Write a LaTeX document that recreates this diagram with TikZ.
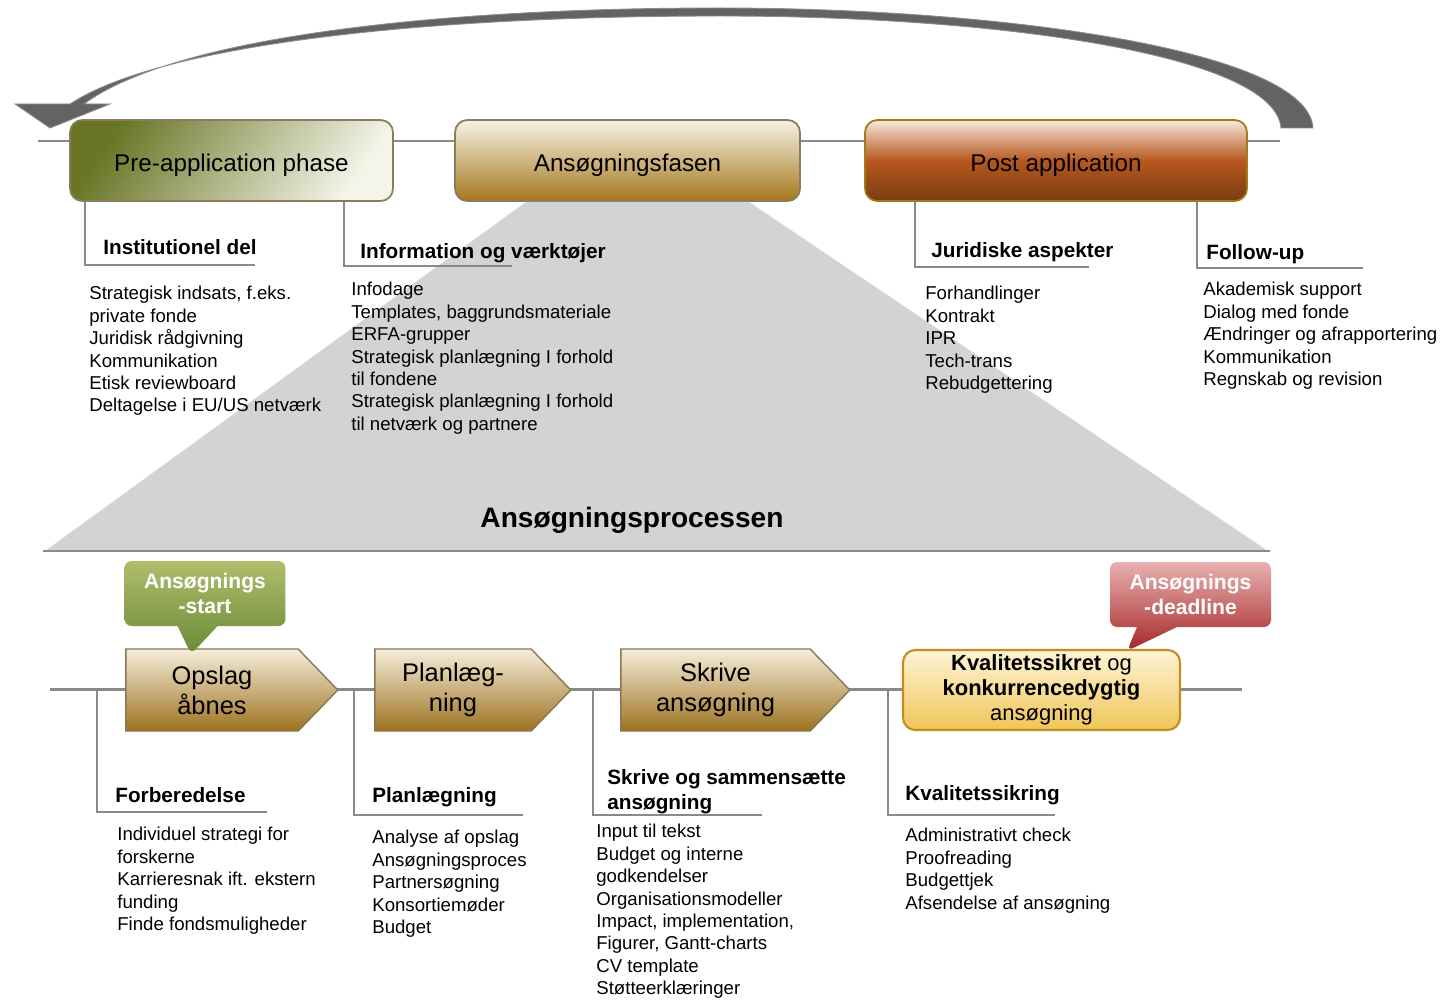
\documentclass[tikz,border=0pt]{standalone}
\usepackage{fontspec}
\setmainfont{Liberation Sans}
\usetikzlibrary{shapes.symbols,shapes.callouts,calc}
\definecolor{linegray}{RGB}{138,138,138}
\definecolor{arcfill}{RGB}{99,99,99}
\definecolor{arcedge}{RGB}{140,140,140}
\definecolor{trapgray}{RGB}{211,211,211}
\definecolor{predark}{RGB}{104,118,38}
\definecolor{prelight}{RGB}{244,244,232}
\definecolor{preedge}{RGB}{140,123,96}
\definecolor{fasetop}{RGB}{247,241,228}
\definecolor{fasebot}{RGB}{166,120,30}
\definecolor{faseedge}{RGB}{138,122,94}
\definecolor{posttop}{RGB}{246,232,222}
\definecolor{postmid}{RGB}{183,88,30}
\definecolor{postbot}{RGB}{122,60,16}
\definecolor{postedge}{RGB}{162,122,23}
\definecolor{arrowtop}{RGB}{245,237,218}
\definecolor{arrowbot}{RGB}{157,114,32}
\definecolor{arrowedge}{RGB}{138,117,89}
\definecolor{kvaltop}{RGB}{253,244,214}
\definecolor{kvalbot}{RGB}{240,197,88}
\definecolor{kvaledge}{RGB}{192,144,30}
\definecolor{starttop}{RGB}{176,189,108}
\definecolor{startbot}{RGB}{106,138,54}
\definecolor{deadtop}{RGB}{234,176,176}
\definecolor{deadbot}{RGB}{165,40,40}

\begin{document}
\begin{tikzpicture}[x=0.02cm,y=-0.02cm,
  mainline/.style={line width=1.7pt,linegray},
  branch/.style={line width=1.2pt,linegray},
  phase/.style={rounded corners=7pt,line width=1pt,minimum height=1.62cm,inner sep=0pt,text height=12.5pt,text depth=0pt,font=\fontsize{13.8}{16}\selectfont},
  stepsig/.style={signal,signal to=east,signal pointer angle=92,draw=arrowedge,line width=0.8pt,top color=arrowtop,bottom color=arrowbot,minimum height=1.64cm,inner sep=0pt,align=center,font=\fontsize{14.5}{17}\selectfont},
  head/.style={anchor=base west,inner sep=0pt,font=\bfseries\fontsize{11.8}{14.2}\selectfont},
  items/.style={anchor=north west,inner sep=0pt,align=left,font=\fontsize{10.6}{12.76}\selectfont},
  flag/.style={rectangle callout,rounded corners=4pt,minimum width=3.22cm,minimum height=1.3cm,inner sep=0pt,align=center,text=white,font=\bfseries\fontsize{12}{14.7}\selectfont,callout pointer width=0.8cm}]
\useasboundingbox (0,0) rectangle (1442,1000);

% return arrow
\filldraw[fill=arcfill,draw=arcedge,line width=0.5pt] (1313,128) .. controls (1308,50) and (1000,8) .. (720,8)
  .. controls (420,8) and (170,40) .. (84,104) -- (110,104) -- (50,128) -- (15,104) -- (70,104)
  .. controls (160,45) and (420,16) .. (720,16) .. controls (1000,16) and (1275,55) .. (1281,128) -- cycle;

\coordinate (topL) at (38,141);
\coordinate (topR) at (1280,141);
\coordinate (botL) at (50,689);
\coordinate (botR) at (1242,689);
\coordinate (trapBL) at (43,551);
\coordinate (trapBR) at (1270,551);

\node[phase,minimum width=6.46cm,draw=preedge,top color=predark,bottom color=prelight,shading angle=55] (pre) at (231.5,160.5) {Pre-application phase};
\node[phase,minimum width=6.9cm,draw=faseedge,top color=fasetop,bottom color=fasebot] (fase) at (627.5,160.5) {Ansøgningsfasen};
\node[phase,minimum width=7.64cm,draw=postedge,top color=posttop,bottom color=postbot,middle color=postmid] (post) at (1056,160.5) {Post application};

\draw[mainline] (topL) -- (pre.west |- topL);
\draw[mainline] (pre.east |- topL) -- (fase.west |- topL);
\draw[mainline] (fase.east |- topL) -- (post.west |- topL);
\draw[mainline] (post.east |- topL) -- (topR);

% zoom of the application phase
\fill[trapgray] ($(fase.south west)+(72,0)$) -- ($(fase.south east)+(-52,0)$) -- (1268,551) -- (45,551) -- cycle;
\draw[mainline] (trapBL) -- (trapBR);
\node[font=\bfseries\fontsize{16}{19}\selectfont] (proc) at (632,520) {Ansøgningsprocessen};

% top branches
\coordinate (instU) at (255,265);
\coordinate (infoU) at (512,266);
\coordinate (jurU) at (1089,267);
\coordinate (followU) at (1363,268);
\draw[branch] ($(pre.south west)+(16,0)$) |- (instU);
\draw[branch] ($(pre.south east)+(-50,0)$) |- (infoU);
\draw[branch] ($(post.south west)+(51,0)$) |- (jurU);
\draw[branch] ($(post.south east)+(-51,0)$) |- (followU);

\node[head] (insthead) at (103,254.5) {Institutionel del};
\node[head] (infohead) at (360,258.5) {Information og værktøjer};
\node[head] (jurhead) at (931,257.5) {Juridiske aspekter};
\node[head] (followhead) at (1206,259) {Follow-up};

\node[items] (instlist) at (89,286) {Strategisk indsats, f.eks.\\private fonde\\Juridisk rådgivning\\Kommunikation\\Etisk reviewboard\\Deltagelse i EU/US netværk};
\node[items] (infolist) at (351,282) {Infodage\\Templates, baggrundsmateriale\\ERFA-grupper\\Strategisk planlægning I forhold\\til fondene\\Strategisk planlægning I forhold\\til netværk og partnere};
\node[items] (jurlist) at (925,286) {Forhandlinger\\Kontrakt\\IPR\\Tech-trans\\Rebudgettering};
\node[items] (followlist) at (1203,282) {Akademisk support\\Dialog med fonde\\Ændringer og afrapportering\\Kommunikation\\Regnskab og revision};

% process
\draw[mainline] (botL) -- (botR);
\node[stepsig,minimum width=4.24cm] (opslag) at (212,690) {Opslag\\åbnes};
\node[stepsig,minimum width=3.92cm] (plan) at (453,690) {Planlæg-\\ning};
\node[stepsig,minimum width=4.58cm] (skrive) at (715.5,690) {Skrive\\ansøgning};
\node[draw=kvaledge,line width=1.2pt,rounded corners=7pt,top color=kvaltop,bottom color=kvalbot,minimum width=5.54cm,minimum height=1.6cm,inner sep=0pt,align=center,font=\fontsize{12.5}{14.2}\selectfont] (kval) at (1041.5,690) {\textbf{Kvalitetssikret} og\\\textbf{konkurrencedygtig}\\ansøgning};

\node[flag,top color=starttop,bottom color=startbot,callout absolute pointer={($(opslag.north west)+(66,6)$)}] (start) at (205,593.5) {Ansøgnings\\-start};
\node[flag,top color=deadtop,bottom color=deadbot,callout absolute pointer={($(kval.north west)+(225,2)$)}] (deadline) at (1190.5,594.5) {Ansøgnings\\-deadline};

% bottom branches
\coordinate (forbU) at (267,812);
\coordinate (planU) at (523,815);
\coordinate (skrivU) at (762,815);
\coordinate (kvalU) at (1055,815);
\draw[branch] ($(opslag.west)+(-28,0)$) |- (forbU);
\draw[branch] ($(plan.west)+(-20,0)$) |- (planU);
\draw[branch] ($(skrive.west)+(-27,0)$) |- (skrivU);
\draw[branch] ($(kval.west)+(-14,0)$) |- (kvalU);

\node[head] (forbhead) at (115,802) {Forberedelse};
\node[head] (planhead) at (372,802) {Planlægning};
\node[head,anchor=north west,align=left] (skrivhead) at (607,769) {Skrive og sammensætte\\ansøgning};
\node[head] (kvalhead) at (905,800) {Kvalitetssikring};

\node[items] (forblist) at (117,827) {Individuel strategi for\\forskerne\\Karrieresnak ift. ekstern\\funding\\Finde fondsmuligheder};
\node[items] (planlist) at (372,830) {Analyse af opslag\\Ansøgningsproces\\Partnersøgning\\Konsortiemøder\\Budget};
\node[items] (skrivlist) at (596,824) {Input til tekst\\Budget og interne\\godkendelser\\Organisationsmodeller\\Impact, implementation,\\Figurer, Gantt-charts\\CV template\\Støtteerklæringer};
\node[items] (kvallist) at (905,828) {Administrativt check\\Proofreading\\Budgettjek\\Afsendelse af ansøgning};
\end{tikzpicture}
\end{document}
